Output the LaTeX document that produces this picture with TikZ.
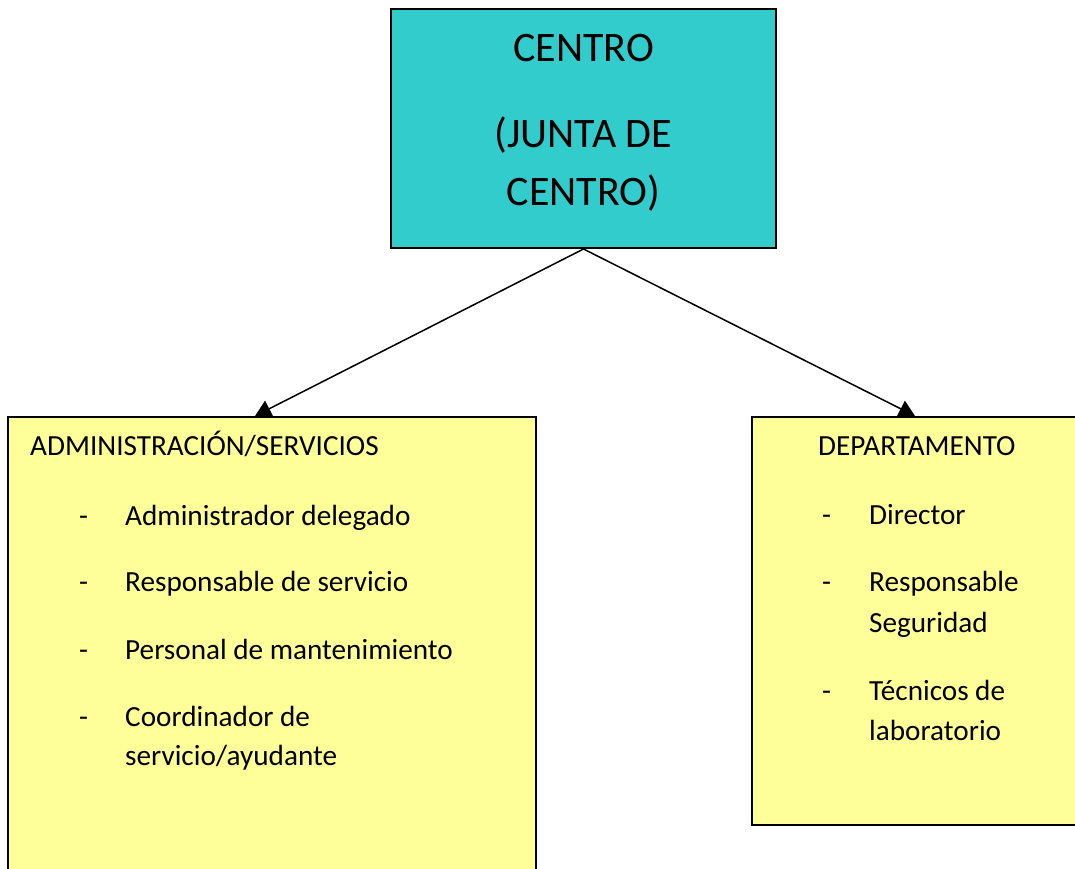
\documentclass[tikz,border=0pt]{standalone}
\usepackage{fontspec}
\setmainfont{Carlito}
\usetikzlibrary{arrows.meta}
\definecolor{teal}{HTML}{33CCCC}
\definecolor{paleyellow}{HTML}{FFFF99}
\tikzset{
  box/.style={draw=black, line width=2pt, rectangle, inner sep=0pt},
  big/.style={anchor=base, inner sep=0pt, font=\fontsize{42}{50}\selectfont},
  txt/.style={anchor=base west, inner sep=0pt, font=\fontsize{29.2}{34}\selectfont},
  conn/.style={line width=1.5pt, -{Triangle[length=16pt,width=18pt]}}
}
\begin{document}
\begin{tikzpicture}[x=1pt,y=-1pt]
\useasboundingbox (0,0) rectangle (1075,868);
\clip (0,0) rectangle (1075,868);
% boxes
\node[box, fill=teal, minimum width=385pt, minimum height=239pt] (centro) at (583.5,128.5) {};
\node[box, fill=paleyellow, minimum width=528pt, minimum height=480pt] (admin) at (272,657) {};
\node[box, fill=paleyellow, minimum width=340pt, minimum height=408pt] (dep) at (922,621) {};
% top texts
\node[big] (t1) at (583.5,61) {CENTRO};
\node[big] (t2) at (583.5,147) {(JUNTA DE};
\node[big] (t3) at (583.5,205) {CENTRO)};
% left texts
\node[txt] (a0) at (30,455) {ADMINISTRACIÓN/SERVICIOS};
\node[txt] (ad1) at (79,525) {-};
\node[txt] (a1) at (125,525) {Administrador delegado};
\node[txt] (ad2) at (79,591) {-};
\node[txt] (a2) at (125,591) {Responsable de servicio};
\node[txt] (ad3) at (79,659) {-};
\node[txt] (a3) at (125,659) {Personal de mantenimiento};
\node[txt] (ad4) at (79,726) {-};
\node[txt] (a4) at (125,726) {Coordinador de};
\node[txt] (a5) at (125,765) {servicio/ayudante};
% right texts
\node[txt] (d0) at (818,455) {DEPARTAMENTO};
\node[txt] (dd1) at (822,524) {-};
\node[txt] (d1) at (869,524) {Director};
\node[txt] (dd2) at (822,591) {-};
\node[txt] (d2) at (869,591) {Responsable};
\node[txt] (d3) at (869,632) {Seguridad};
\node[txt] (dd4) at (822,700) {-};
\node[txt] (d4) at (869,700) {Técnicos de};
\node[txt] (d5) at (869,740) {laboratorio};
% connectors
\coordinate (ain) at (255,416);
\coordinate (din) at (915,416);
\draw[conn] (centro.south) -- (ain);
\draw[conn] (centro.south) -- (din);
\end{tikzpicture}
\end{document}
